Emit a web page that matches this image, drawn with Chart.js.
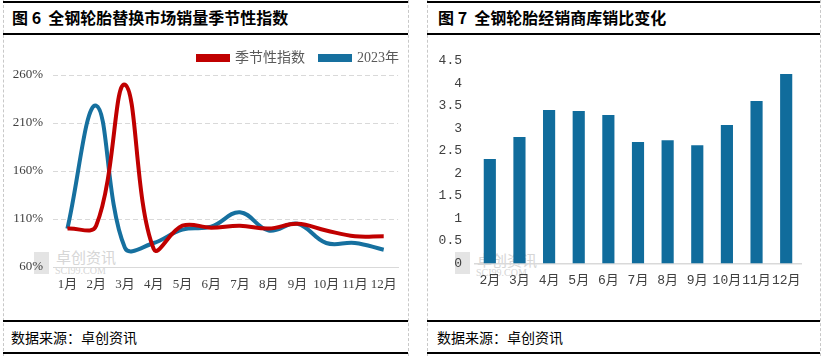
<!DOCTYPE html>
<html>
<head>
<meta charset="utf-8">
<script src="https://cdn.jsdelivr.net/npm/chart.js@4/dist/chart.umd.min.js"></script>
<style>
  html, body { margin:0; padding:0; background:#fff; }
  body { width:823px; height:356px; position:relative; overflow:hidden; font-family:'Noto Sans CJK SC', sans-serif; }
  .vline { position:absolute; top:0; height:356px; width:0; border-left:1px dashed #c8c8c8; }
  .hline { position:absolute; height:2px; background:#000; }
  .title { position:absolute; top:5px; font-size:16px; font-weight:bold; color:#000; line-height:24px; white-space:nowrap; }
  .foot { position:absolute; top:325px; font-size:14px; color:#000; line-height:24px; white-space:nowrap; }
  canvas { position:absolute; }
  .wm { position:absolute; color:#d6d6d6; white-space:nowrap; }
</style>
</head>
<body>
<div class="vline" style="left:3px"></div>
<div class="vline" style="left:408px"></div>
<div class="vline" style="left:427px"></div>
<div class="vline" style="left:820px"></div>
<div class="hline" style="left:3px;width:405px;top:1px"></div>
<div class="hline" style="left:3px;width:405px;top:33px"></div>
<div class="hline" style="left:3px;width:405px;top:320px"></div>
<div class="hline" style="left:3px;width:405px;top:352px"></div>
<div class="hline" style="left:427px;width:393px;top:1px"></div>
<div class="hline" style="left:427px;width:393px;top:33px"></div>
<div class="hline" style="left:427px;width:393px;top:320px"></div>
<div class="hline" style="left:427px;width:393px;top:352px"></div>

<div class="title" style="left:12px">图 6&nbsp; 全钢轮胎替换市场销量季节性指数</div>
<div class="title" style="left:438px">图 7&nbsp; 全钢轮胎经销商库销比变化</div>
<div class="foot" style="left:11px">数据来源：卓创资讯</div>
<div class="foot" style="left:437px">数据来源：卓创资讯</div>

<div class="wm" style="left:34px;top:252px;width:15px;height:22px;background:#e4e4e4"></div>
<div class="wm" style="left:56px;top:249px;font-size:15px;line-height:16px">卓创资讯</div>
<div class="wm" style="left:55px;top:266px;font-size:10px;line-height:10px;font-family:'Liberation Serif',serif">SCI99.COM</div>
<div class="wm" style="left:455px;top:252px;width:15px;height:22px;background:#e4e4e4"></div>
<div class="wm" style="left:477px;top:252px;font-size:15px;line-height:16px">卓创资讯</div>
<div class="wm" style="left:476px;top:268px;font-size:10px;line-height:10px;font-family:'Liberation Serif',serif">SCI99.COM</div>

<canvas id="c1" width="403" height="284" style="left:4px;top:36px;width:403px;height:284px"></canvas>
<canvas id="c2" width="391" height="284" style="left:428px;top:36px;width:391px;height:284px"></canvas>

<script>
// ---- Data: chart 6 ----
const months1 = ['1月','2月','3月','4月','5月','6月','7月','8月','9月','10月','11月','12月'];
const seasonalIndex = [100, 103, 250, 79, 103, 101, 103, 100, 105, 98, 92, 92];
const year2023 = [100, 228, 80, 85, 99, 102, 117, 98, 105, 85, 85, 78];
const yTicks1 = [60, 110, 160, 210, 260];

// ---- Data: chart 7 ----
const months2 = ['2月','3月','4月','5月','6月','7月','8月','9月','10月','11月','12月'];
const stockSalesRatio = [2.32, 2.81, 3.41, 3.39, 3.30, 2.70, 2.74, 2.63, 3.08, 3.61, 4.21];

const RED = '#C00000';
const BLUE = '#16709F';
const BAR = '#106C9C';
const tickFont = { family: "'Liberation Serif', 'Noto Sans CJK SC', serif", size: 13 };

const legendShift = {
  id: 'legendShift',
  afterLayout(chart) { if (chart.legend) { chart.legend.right += 14; } }
};

new Chart(document.getElementById('c1'), {
  type: 'line',
  data: {
    labels: months1,
    datasets: [
      { label: '季节性指数', data: seasonalIndex, borderColor: RED, backgroundColor: RED, borderWidth: 4, pointRadius: 0, tension: 0.4, fill: false },
      { label: '2023年', data: year2023, borderColor: BLUE, backgroundColor: BLUE, borderWidth: 4, pointRadius: 0, tension: 0.4, fill: false }
    ]
  },
  plugins: [legendShift],
  options: {
    responsive: false,
    animation: false,
    layout: { padding: { top: 0, right: 7, left: 0, bottom: 0 } },
    plugins: {
      legend: {
        position: 'top', align: 'end', maxHeight: 39,
        labels: { boxWidth: 30, boxHeight: 4, padding: 15, color: '#595959', font: { family: "'Liberation Serif', 'Noto Sans CJK SC', serif", size: 14 } }
      },
      tooltip: { enabled: false }
    },
    scales: {
      x: {
        offset: true,
        grid: { display: false, drawTicks: false },
        border: { display: true, color: '#D9D9D9', width: 1 },
        ticks: { color: '#404040', font: tickFont, padding: 10, maxRotation: 0, autoSkip: false },
        afterFit: s => { s.height = 53; }
      },
      y: {
        min: 60, max: 260,
        afterBuildTicks: s => { s.ticks = yTicks1.map(v => ({ value: v })); },
        grid: { color: '#D9D9D9', drawTicks: false, lineWidth: 1 },
        border: { display: false, dash: [5, 3] },
        ticks: { color: '#404040', font: tickFont, padding: 10, callback: v => v + '%' },
        afterFit: s => { s.width = 49; }
      }
    }
  }
});

new Chart(document.getElementById('c2'), {
  type: 'bar',
  data: {
    labels: months2,
    datasets: [
      { label: '库销比', data: stockSalesRatio, backgroundColor: BAR, borderWidth: 0, categoryPercentage: 1, barPercentage: 0.41 }
    ]
  },
  options: {
    responsive: false,
    animation: false,
    layout: { padding: { top: 25, right: 18, left: 0, bottom: 0 } },
    plugins: { legend: { display: false }, tooltip: { enabled: false } },
    scales: {
      x: {
        grid: { display: false, drawTicks: false },
        border: { display: true, color: '#D9D9D9', width: 1.5 },
        ticks: { color: '#404040', font: { family: "'Liberation Mono', 'Noto Sans CJK SC', monospace", size: 13 }, padding: 9, maxRotation: 0, autoSkip: false },
        afterFit: s => { s.height = 56.5; }
      },
      y: {
        min: 0, max: 4.5,
        ticks: { stepSize: 0.5, color: '#404040', font: { family: "'Liberation Mono', monospace", size: 13 }, padding: 13, callback: v => String(Math.round(v * 10) / 10) },
        grid: { display: false, drawTicks: false },
        border: { display: false },
        afterFit: s => { s.width = 47; }
      }
    }
  }
});
</script>
</body>
</html>
